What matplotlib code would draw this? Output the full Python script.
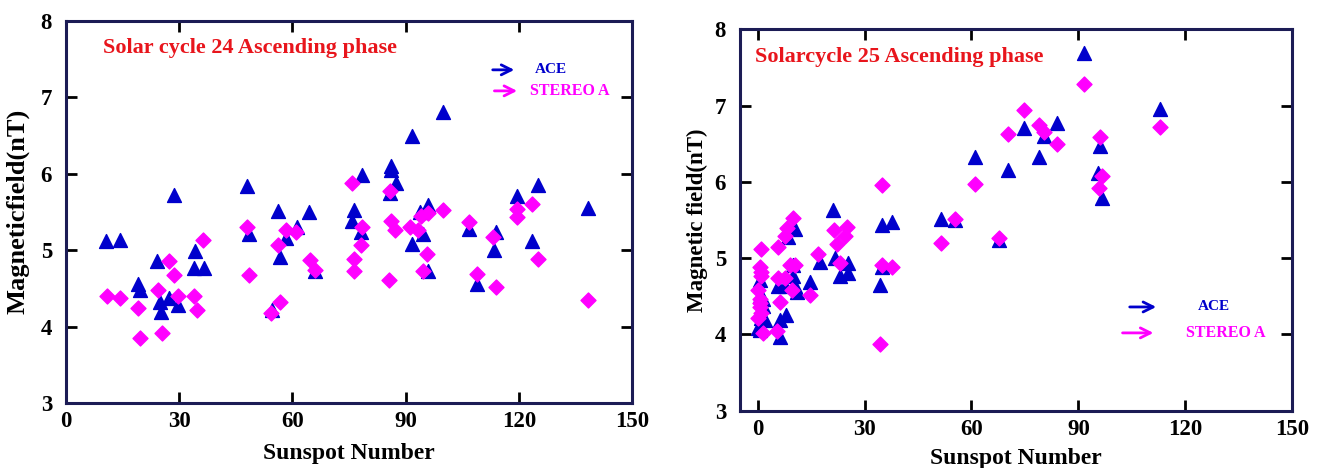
import matplotlib
matplotlib.use("Agg")
import matplotlib.pyplot as plt

plt.rcParams['font.family'] = ['Liberation Serif', 'DejaVu Serif']
plt.rcParams['font.weight'] = 'bold'

# ---- Solar cycle 24 (left panel) ----
c24_ace_ssn = [10.6, 14.3, 28.7, 47.9, 48.4, 24.2, 34.2, 33.8, 36.7, 19.1, 19.5, 27.4,
               24.8, 29.6, 25.2, 56.1, 64.4, 61.1, 58.3, 56.7, 65.9, 54.5, 78.4, 76.4,
               75.7, 78.1, 86.2, 86.0, 87.5, 85.8, 91.6, 99.8, 91.7, 96.0, 93.8, 94.5,
               96.0, 106.9, 113.9, 113.3, 109.0, 119.6, 125.1, 123.6, 138.4]
c24_ace_b = [5.12, 5.13, 5.72, 5.84, 5.21, 4.86, 4.99, 4.76, 4.77, 4.56, 4.48, 4.37,
             4.32, 4.28, 4.19, 5.51, 5.50, 5.30, 5.16, 4.91, 4.72, 4.22, 5.98, 5.52,
             5.38, 5.24, 6.10, 6.04, 5.88, 5.74, 5.08, 6.81, 6.49, 5.59, 5.50, 5.21,
             4.72, 5.28, 5.24, 5.00, 4.56, 5.71, 5.85, 5.12, 5.55]

c24_sta_ssn = [10.8, 14.3, 19.1, 19.7, 25.5, 24.3, 27.4, 28.7, 29.8, 33.8, 34.6, 36.4,
               47.9, 48.4, 58.4, 60.9, 56.3, 64.6, 65.9, 56.7, 54.3, 75.9, 78.4, 78.1,
               76.4, 76.2, 85.8, 86.2, 87.3, 85.5, 99.8, 96.0, 94.0, 91.2, 93.4, 95.8,
               94.5, 106.8, 113.2, 108.9, 114.0, 119.6, 119.6, 123.6, 125.1, 138.4]
c24_sta_b = [4.40, 4.37, 4.24, 3.85, 3.91, 4.48, 4.85, 4.67, 4.40, 4.40, 4.22, 5.13,
             5.30, 4.67, 5.26, 5.23, 5.07, 4.87, 4.74, 4.32, 4.17, 5.88, 5.30, 5.07,
             4.88, 4.72, 5.77, 5.38, 5.26, 4.61, 5.52, 5.49, 5.44, 5.30, 5.26, 4.95,
             4.72, 5.36, 5.17, 4.69, 4.51, 5.54, 5.43, 5.60, 4.88, 4.35]

# ---- Solar cycle 25 (right panel) ----
c25_ace_ssn = [0.6, 1.5, 1.5, 2.0, 0.6, 0.1, 6.2, 7.9, 6.2, 5.7, 7.6, 9.9, 10.4, 10.9,
               14.6, 17.5, 21.2, 21.7, 23.1, 25.4, 25.4, 10.4, 8.5, 34.4, 34.8, 34.8,
               37.7, 9.9, 51.3, 55.5, 67.7, 61.1, 70.3, 74.7, 78.9, 80.4, 91.5, 84.1,
               96.1, 95.4, 96.6, 113.0, 1.0, 0.6]
c25_ace_b = [4.71, 4.47, 4.37, 4.19, 4.06, 4.08, 4.19, 4.26, 3.97, 4.63, 4.63, 4.76,
             4.63, 4.56, 4.69, 4.95, 5.63, 5.00, 4.76, 4.93, 4.80, 5.38, 5.28, 4.65,
             4.89, 5.44, 5.48, 4.91, 5.51, 5.50, 5.24, 6.32, 6.16, 6.71, 6.33, 6.60,
             7.69, 6.77, 6.47, 6.11, 5.79, 6.96, 4.21, 4.50]

c25_sta_ssn = [9.9, 8.1, 7.6, 5.7, 1.0, 0.6, 1.0, 0.1, 0.6, 0.6, 1.0, 0.1, 1.5, 5.3,
               6.2, 5.7, 7.6, 9.0, 10.4, 9.5, 14.6, 17.0, 21.5, 25.0, 24.5, 22.2, 23.1,
               34.4, 34.8, 37.7, 34.8, 51.3, 55.5, 67.7, 60.9, 70.3, 74.7, 78.9, 80.4,
               91.5, 84.1, 96.1, 96.6, 95.7, 112.8, 1.0, 0.6]
c25_sta_b = [5.53, 5.39, 5.29, 5.14, 5.12, 4.89, 4.76, 4.58, 4.47, 4.36, 4.28, 4.21,
             4.02, 4.04, 4.43, 4.74, 4.74, 4.91, 4.91, 4.58, 4.52, 5.06, 5.37, 5.41,
             5.29, 5.19, 4.93, 3.88, 4.91, 4.89, 5.96, 5.20, 5.51, 5.27, 5.97, 6.63,
             6.94, 6.75, 6.66, 7.28, 6.49, 6.59, 6.08, 5.92, 6.72, 4.82, 4.41]

xticks = [0, 30, 60, 90, 120, 150]
yticks = [3, 4, 5, 6, 7, 8]

ace_color = '#0000cc'
sta_color = '#ff00ff'
spine_color = '#1c1c55'
title_color = '#e8151c'

W, H = 1322, 468
fig = plt.figure(figsize=(W / 100, H / 100), dpi=100)


def px_axes(l, r, t, b):
    return fig.add_axes([l / W, 1 - b / H, (r - l) / W, (b - t) / H])


def style(ax, xmin, ylabel, ylabel_size, xlabel_pad, ylabel_pad):
    ax.set_xlim(xmin, 150)
    ax.set_ylim(3, 8)
    ax.set_xticks(xticks)
    ax.set_yticks(yticks)
    ax.tick_params(direction='in', top=True, right=True, length=8, width=2,
                   labelsize=16.5)
    ax.tick_params(axis='x', pad=6)
    ax.tick_params(axis='y', pad=10)
    for lab in ax.get_xticklabels() + ax.get_yticklabels():
        lab.set_fontweight('bold')
    for s in ax.spines.values():
        s.set_linewidth(2.2)
        s.set_color(spine_color)
    ax.set_xlabel('Sunspot Number', fontsize=17, fontweight='bold', labelpad=xlabel_pad)
    ax.set_ylabel(ylabel, fontsize=ylabel_size, fontweight='bold', labelpad=ylabel_pad)


def arrow_legend(ax, ya, ys, xa, xs):
    ax.annotate('', xy=(xa[1], ya), xytext=(xa[0], ya), xycoords='axes fraction',
                arrowprops=dict(arrowstyle='->', color=ace_color, lw=2,
                                mutation_scale=18))
    ax.text(xs[0], ya, 'ACE', transform=ax.transAxes, color=ace_color,
            fontsize=11, fontweight='bold', va='center')
    ax.annotate('', xy=(xa[3], ys), xytext=(xa[2], ys), xycoords='axes fraction',
                arrowprops=dict(arrowstyle='->', color=sta_color, lw=2,
                                mutation_scale=18))
    ax.text(xs[1], ys, 'STEREO A', transform=ax.transAxes, color=sta_color,
            fontsize=11.5, fontweight='bold', va='center')


# left panel
ax1 = px_axes(66, 632, 20.5, 403)
ax1.scatter(c24_ace_ssn, c24_ace_b, marker='^', s=100, color=ace_color, zorder=3)
ax1.scatter(c24_sta_ssn, c24_sta_b, marker='D', s=58, color=sta_color, zorder=4)
style(ax1, 0, 'Magneticfield(nT)', 19, 8, 8)
ax1.text(0.065, 0.928, 'Solar cycle 24 Ascending phase', transform=ax1.transAxes,
         color=title_color, fontsize=16, fontweight='bold', va='center')
arrow_legend(ax1, 0.871, 0.816, [0.749, 0.797, 0.752, 0.802], [0.829, 0.820])

# right panel
ax2 = px_axes(740, 1292, 29.3, 410.7)
ax2.scatter(c25_ace_ssn, c25_ace_b, marker='^', s=100, color=ace_color, zorder=3)
ax2.scatter(c25_sta_ssn, c25_sta_b, marker='D', s=58, color=sta_color, zorder=4)
style(ax2, -5, 'Magnetic field(nT)', 16.5, 6, 5)
ax2.text(0.027, 0.927, 'Solarcycle 25 Ascending phase', transform=ax2.transAxes,
         color=title_color, fontsize=16, fontweight='bold', va='center')
arrow_legend(ax2, 0.272, 0.204, [0.701, 0.759, 0.688, 0.754], [0.830, 0.808])

fig.savefig('out.png', dpi=100)
